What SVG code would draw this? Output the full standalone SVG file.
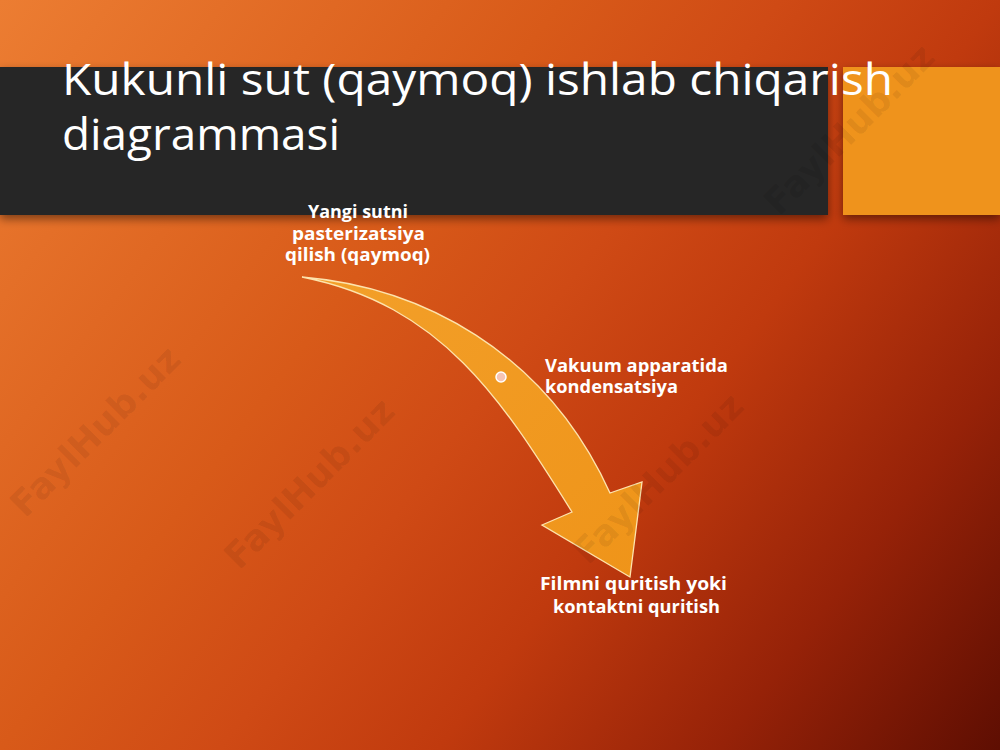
<svg xmlns="http://www.w3.org/2000/svg" width="1000" height="750" viewBox="0 0 1000 750">
  <defs>
    <linearGradient id="bg" x1="0" y1="0" x2="1000" y2="750" gradientUnits="userSpaceOnUse">
      <stop offset="0" stop-color="#ec7d32"/>
      <stop offset="0.36" stop-color="#d85a19"/>
      <stop offset="0.5" stop-color="#cf4a15"/>
      <stop offset="0.64" stop-color="#c03a0e"/>
      <stop offset="0.82" stop-color="#962208"/>
      <stop offset="1" stop-color="#5e0e02"/>
    </linearGradient>
    <linearGradient id="arrowFill" x1="300" y1="277" x2="640" y2="577" gradientUnits="userSpaceOnUse">
      <stop offset="0" stop-color="#f3a02a"/>
      <stop offset="1" stop-color="#ef9419"/>
    </linearGradient>
    <filter id="shadow" x="-5%" y="-20%" width="110%" height="150%">
      <feDropShadow dx="0" dy="4" stdDeviation="5" flood-color="#000" flood-opacity="0.45"/>
    </filter>
    <style>
      .title { font-family: "Open Sans", "Noto Sans", "Liberation Sans", sans-serif; font-size: 44px; fill: #ffffff; }
      .label { font-family: "Open Sans", "Noto Sans", "Liberation Sans", sans-serif; font-size: 17px; font-weight: 700; fill: #ffffff; }
      .wm { font-family: "DejaVu Sans", "Liberation Sans", sans-serif; font-size: 36px; font-weight: 700; fill: #000000; fill-opacity: 0.07; }
      .arrow { fill: url(#arrowFill); stroke: #fde3ad; stroke-width: 1.3; stroke-linejoin: miter; }
    </style>
  </defs>

  <rect x="0" y="0" width="1000" height="750" fill="url(#bg)"/>

  <g id="title-band">
    <rect x="0" y="67" width="828" height="148" fill="#262626" filter="url(#shadow)"/>
    <rect x="843" y="67" width="157" height="148" fill="#ef931b" filter="url(#shadow)"/>
    <text class="title" x="62" y="95" textLength="831" lengthAdjust="spacingAndGlyphs">Kukunli sut (qaymoq) ishlab chiqarish</text>
    <text class="title" x="62" y="150" textLength="278" lengthAdjust="spacingAndGlyphs">diagrammasi</text>
  </g>

  <g id="connectors">
    <path class="arrow" d="M302,277 C420,287 545,350 610,493 L642,482 L630,577 L542,525 L572,512 C502,400 442,305 302,277 Z"/>
    <circle cx="501" cy="377" r="5" fill="#f6c4b4" stroke="#ffffff" stroke-width="1.5"/>
  </g>

  <g id="node-1">
    <text class="label" x="308" y="218" textLength="100" lengthAdjust="spacingAndGlyphs">Yangi sutni</text>
    <text class="label" x="292" y="240" textLength="133" lengthAdjust="spacingAndGlyphs">pasterizatsiya</text>
    <text class="label" x="285" y="261" textLength="145" lengthAdjust="spacingAndGlyphs">qilish (qaymoq)</text>
  </g>

  <g id="node-2">
    <text class="label" x="545" y="372" textLength="183" lengthAdjust="spacingAndGlyphs">Vakuum apparatida</text>
    <text class="label" x="545" y="393" textLength="133" lengthAdjust="spacingAndGlyphs">kondensatsiya</text>
  </g>

  <g id="node-3">
    <text class="label" x="540" y="590" textLength="187" lengthAdjust="spacingAndGlyphs">Filmni quritish yoki</text>
    <text class="label" x="553" y="613" textLength="167" lengthAdjust="spacingAndGlyphs">kontaktni quritish</text>
  </g>

  <g id="watermarks">
    <text class="wm" text-anchor="middle" transform="translate(318,492) rotate(-45)">FaylHub.uz</text>
    <text class="wm" text-anchor="middle" transform="translate(667,487) rotate(-45)">FaylHub.uz</text>
    <text class="wm" text-anchor="middle" transform="translate(858,138) rotate(-45)">FaylHub.uz</text>
    <text class="wm" text-anchor="middle" transform="translate(104,440) rotate(-45)">FaylHub.uz</text>
  </g>
</svg>
